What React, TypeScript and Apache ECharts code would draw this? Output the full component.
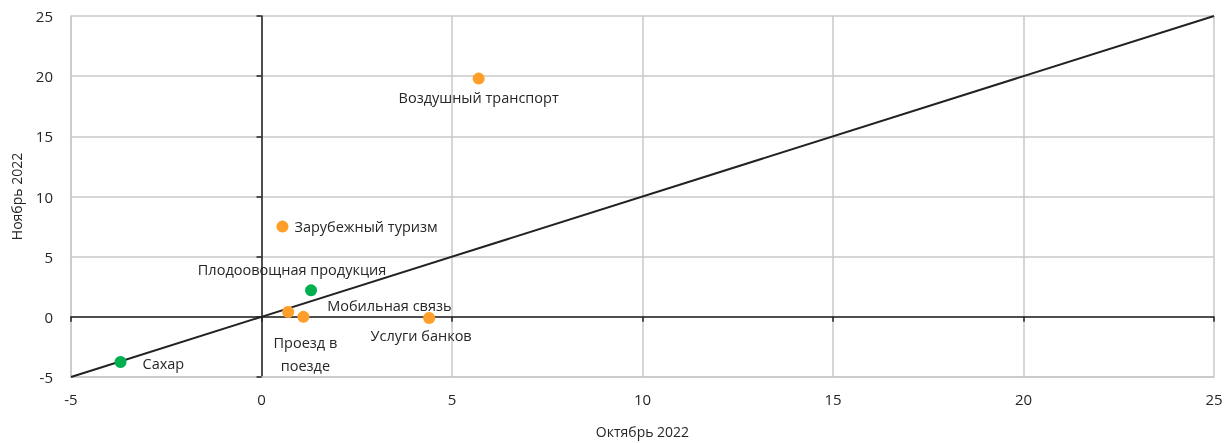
import React, { useEffect, useRef } from "react";
import * as echarts from "echarts";

const names = [
  "Воздушный транспорт",
  "Зарубежный туризм",
  "Плодоовощная продукция",
  "Мобильная связь",
  "Проезд в\nпоезде",
  "Услуги банков",
  "Сахар",
];
const october = [5.7, 0.55, 1.3, 0.7, 1.1, 4.4, -3.7];
const november = [19.8, 7.5, 2.2, 0.4, 0.0, -0.1, -3.75];
const groups = ["orange", "orange", "green", "orange", "orange", "orange", "green"];
const diagonal = [[-5, -5], [25, 25]];

const colors: Record<string, string> = { orange: "#FF9F29", green: "#00B050" };

const labelPlacement: Record<string, any> = {
  "Воздушный транспорт": { position: "bottom", offset: [0, -5] },
  "Зарубежный туризм": { position: "right", offset: [0, 0] },
  "Плодоовощная продукция": { position: "top", offset: [-19, 3] },
  "Мобильная связь": { position: "right", offset: [27, -7] },
  "Проезд в\nпоезде": { position: "bottom", offset: [2, 2] },
  "Услуги банков": { position: "bottom", offset: [-8, -6] },
  "Сахар": { position: "right", offset: [10, 2] },
};

const FONT = "'Open Sans', 'Noto Sans', sans-serif";
const TEXT = "#262626";

export default function App() {
  const ref = useRef<HTMLDivElement>(null);
  useEffect(() => {
    const chart = echarts.init(ref.current!, null, { renderer: "svg" });
    const pts = names.map((n, i) => ({
      name: n,
      value: [october[i], november[i]],
      itemStyle: { color: colors[groups[i]], opacity: 1 },
      label: {
        show: true,
        formatter: n,
        color: TEXT,
        fontSize: 14.5,
        fontFamily: FONT,
        lineHeight: 23,
        distance: 6,
        ...labelPlacement[n],
      },
    }));
    chart.setOption({
      animation: false,
      grid: { left: 71, right: 16, top: 16, bottom: 62, containLabel: false },
      xAxis: [
        {
          type: "value",
          min: -5,
          max: 25,
          interval: 5,
          name: "Октябрь 2022",
          nameLocation: "middle",
          nameGap: 47,
          nameTextStyle: { color: TEXT, fontSize: 14, fontFamily: FONT },
          axisLine: { show: true, onZero: false, lineStyle: { color: "#c8c8c8", width: 1.5 } },
          axisTick: { show: false },
          axisLabel: { color: TEXT, fontSize: 15, fontFamily: FONT, margin: 14 },
          splitLine: { show: true, lineStyle: { color: "#c8c8c8", width: 1.5 } },
        },
        {
          type: "value",
          min: -5,
          max: 25,
          interval: 5,
          position: "top",
          axisLine: { show: true, onZero: true, lineStyle: { color: "#222", width: 1.5 } },
          axisTick: { show: true, inside: true, length: 5, lineStyle: { color: "#222", width: 1.5 } },
          axisLabel: { show: false },
          splitLine: { show: false },
        },
      ],
      yAxis: [
        {
          type: "value",
          min: -5,
          max: 25,
          interval: 5,
          name: "Ноябрь 2022",
          nameLocation: "middle",
          nameGap: 48,
          nameTextStyle: { color: TEXT, fontSize: 14, fontFamily: FONT },
          axisLine: { show: true, onZero: false, lineStyle: { color: "#c8c8c8", width: 1.5 } },
          axisTick: { show: false },
          axisLabel: { color: TEXT, fontSize: 15, fontFamily: FONT, margin: 18 },
          splitLine: { show: true, lineStyle: { color: "#c8c8c8", width: 1.5 } },
        },
        {
          type: "value",
          min: -5,
          max: 25,
          interval: 5,
          position: "right",
          axisLine: { show: true, onZero: true, lineStyle: { color: "#222", width: 1.5 } },
          axisTick: { show: true, inside: true, length: 5, lineStyle: { color: "#222", width: 1.5 } },
          axisLabel: { show: false },
          splitLine: { show: false },
        },
      ],
      series: [
        {
          type: "line",
          data: diagonal,
          xAxisIndex: 0,
          yAxisIndex: 0,
          symbol: "none",
          lineStyle: { color: "#222", width: 2 },
          silent: true,
          z: 3,
        },
        {
          type: "scatter",
          data: pts,
          xAxisIndex: 0,
          yAxisIndex: 0,
          symbolSize: 12,
          z: 5,
        },
      ],
    });
    return () => chart.dispose();
  }, []);
  return (
    <div
      ref={ref}
      style={{ position: "fixed", left: 0, top: 0, width: 1230, height: 443 }}
    />
  );
}
